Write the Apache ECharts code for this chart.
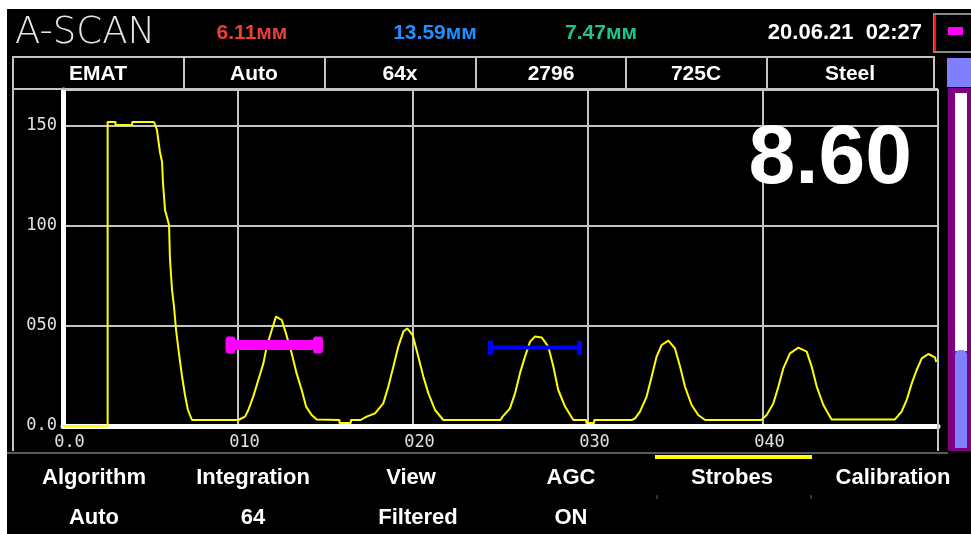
<!DOCTYPE html>
<html><head><meta charset="utf-8">
<script src="https://cdn.jsdelivr.net/npm/echarts@6/dist/echarts.min.js"></script>
<style>html,body{margin:0;padding:0;background:#fff;overflow:hidden;}#c{position:absolute;left:7px;top:9px;width:964px;height:525px;}</style>
</head><body><div id="c"></div><script>
// ---- data ----
const xTickLabels = ['0.0','010','020','030','040',''];
const yTickValues = [0, 50, 100, 150];
const yTickLabels = ['0.0','050','100','150'];
const ascan = [
 [0,0],[2.55,0],[2.55,152],[3.0,152],[3.0,150.5],[3.95,150.5],[3.95,152],[5.2,152],
 [5.37,148],[5.43,144],[5.54,137],[5.66,132],[5.71,122],[5.83,108],[6.06,100.5],[6.11,84],[6.23,68],[6.34,60],[6.46,48],[6.63,36],[6.8,25],[6.97,15.5],[7.14,8],[7.37,3],
 [10.02,3],[10.4,4.7],[10.59,8],[10.87,14.7],[11.16,23],[11.45,31.3],[11.64,39.7],[11.93,48],[12.17,54.7],[12.5,53],[12.74,46.3],[13.07,36.3],[13.35,26.3],[13.64,18],[13.89,9.7],[14.21,5.5],[14.5,3.3],
 [15.8,3],[15.8,1.5],[16.45,1.5],[16.45,3],
 [17.0,3],[17.35,4.7],[17.83,6.3],[18.3,11.3],[18.59,19.7],[18.88,29.7],[19.16,39.7],[19.45,47.2],[19.67,48.8],[19.98,45.5],[20.3,34.7],[20.59,24.7],[20.88,16.3],[21.26,8],[21.73,3],
 [25.0,3],[25.12,4.7],[25.54,8.8],[25.83,16.3],[26.11,26.3],[26.4,34.7],[26.69,42.2],[26.97,44.7],[27.35,44.3],[27.73,39.7],[28.02,29.7],[28.3,18],[28.69,9.7],[29.16,3],
 [29.9,3],[29.9,1.5],[30.35,1.5],[30.35,3],
 [32.5,3],[32.69,3.8],[32.97,7.2],[33.35,14.7],[33.64,24.7],[33.92,34.7],[34.21,40.5],[34.59,42.7],[34.97,38.8],[35.26,29.7],[35.54,19.7],[35.92,10.5],[36.3,5.5],[36.69,3],
 [39.9,3],[40.21,5.5],[40.59,11.3],[40.88,19.7],[41.16,28.8],[41.54,36.3],[42.02,39.2],[42.5,37.2],[42.78,29.7],[43.07,19.7],[43.45,10.5],[43.92,3.3],
 [47.54,3.3],[47.92,7.2],[48.21,13],[48.5,21.3],[48.78,28],[49.07,33.8],[49.45,36],[49.83,34.3],[49.9,32]
];
const strobeA = [9.57, 14.57, 40.5];   // start, end, level
const strobeB = [24.43, 29.51, 39.2];
const readings = ['6.11мм', '13.59мм', '7.47мм'];
const dateText = '20.06.21  02:27';
const headerCells = ['EMAT','Auto','64x','2796','725C','Steel'];
const menuTitles = ['Algorithm','Integration','View','AGC','Strobes','Calibration'];
const menuValues = ['Auto','64','Filtered','ON','',''];
const bigValue = '8.60';
const titleText = 'A-SCAN';

// ---- layout helpers (page coords -> chart coords) ----
const OX = 7, OY = 9;
function L(x1,y1,x2,y2,c,w){return {type:'line',silent:true,z:50,shape:{x1:x1-OX,y1:y1-OY,x2:x2-OX,y2:y2-OY},style:{stroke:c,lineWidth:w}};}
function R(x1,y1,x2,y2,fill,r,stroke,lw){return {type:'rect',silent:true,z:50,shape:{x:x1-OX,y:y1-OY,width:x2-x1,height:y2-y1,r:r||0},style:{fill:fill,stroke:stroke||null,lineWidth:lw||0}};}
function T(t,x,y,font,c,align){return {type:'text',silent:true,z:60,x:x-OX,y:y-OY,style:{text:t,font:font,fill:c,textAlign:align||'center',textVerticalAlign:'middle'}};}

const g = [];
const lc = '#c4c4c4';
// header table
g.push(L(13,57,934,57,lc,2), L(12,89,938,89,lc,2), L(934,56,934,89,lc,2));
[184,325,476,626,767].forEach(x=>g.push(L(x,57,x,89,lc,2)));
g.push(L(13,56,13,451,lc,2), L(938,89,938,451,lc,2), L(7,453,948,453,'#5a5a5a',2));
const cellCenters = [98,254,400,551,696,850];
headerCells.forEach((t,i)=>g.push(T(t,cellCenters[i],74,'bold 21px "Liberation Sans", Arial','#ffffff')));
// top row
g.push(T(titleText,15,33,'200 37px "DejaVu Sans", Lato, sans-serif','#e6e6e6','left'));
const readColors = ['#e8413a','#1e90ff','#1fc493'];
const readCenters = [252,435,601];
readings.forEach((t,i)=>g.push(T(t,readCenters[i],33,'bold 21px "Liberation Sans", Arial',readColors[i])));
g.push(T(dateText,922,33,'bold 22px "Liberation Sans", Arial','#ffffff','right'));
g.push(R(934,14,975,52,'#000',0,'#8a8a8a',2), L(935,15,935,51,'#ff1010',2), R(948,27,963,35,'#ff00ff'));
// right gauge
g.push(R(947,58,971,87,'#8080ff'), R(948,88,971,451,'#800080'), R(955,93,967,351,'#ffffff'), R(955,350,967,448,'#8080ff',[5,5,0,0]));
// big value
g.push(T(bigValue,912,160,'bold 84px "Liberation Sans", Arial','#ffffff','right'));
// bottom menu
const menuCenters = [94,253,411,571,732,893];
menuTitles.forEach((t,i)=>g.push(T(t,menuCenters[i],478,'bold 22px "Liberation Sans", Arial','#ffffff')));
menuValues.forEach((t,i)=>{ if(t) g.push(T(t,menuCenters[i]+(i===2?7:0),518,'bold 22px "Liberation Sans", Arial','#ffffff')); });
g.push(R(655,455,812,459,'#ffff00'), L(657,495,657,499,'#666',1), L(811,495,811,499,'#666',1));

const chart = echarts.init(document.getElementById('c'), null, {renderer:'canvas'});
chart.setOption({
  animation:false,
  backgroundColor:'#000000',
  grid:{left:56, top:81, right:33, bottom:108, containLabel:false},
  xAxis:{type:'value', min:0, max:50, interval:10,
    axisLine:{show:true, lineStyle:{color:'#ffffff', width:5}},
    axisTick:{show:false},
    splitLine:{show:true, lineStyle:{color:lc, width:2}},
    axisLabel:{color:'#e0e0e0', fontFamily:'"DejaVu Sans Mono", monospace', fontSize:17, margin:8, padding:[0,0,0,13],
      formatter:v=>xTickLabels[Math.round(v/10)] ?? ''}},
  yAxis:{type:'value', min:0, max:168, interval:50,
    axisLine:{show:true, lineStyle:{color:'#ffffff', width:5}},
    axisTick:{show:false},
    splitLine:{show:true, lineStyle:{color:lc, width:2}},
    axisLabel:{color:'#e0e0e0', fontFamily:'"DejaVu Sans Mono", monospace', fontSize:17, margin:6,
      formatter:v=>{const i=yTickValues.indexOf(v); return i>=0?yTickLabels[i]:'';}}},
  series:[
    {type:'line', data:ascan, showSymbol:false, symbol:'none', lineStyle:{color:'#ffff00', width:2}, z:5},
    {type:'line', data:[[strobeA[0],strobeA[2]],[strobeA[1],strobeA[2]]], symbol:'roundRect', symbolSize:[10,17],
      itemStyle:{color:'#ff00ff'}, lineStyle:{color:'#ff00ff', width:10}, z:6},
    {type:'line', data:[[strobeB[0],strobeB[2]],[strobeB[1],strobeB[2]]], symbol:'rect', symbolSize:[5,14],
      itemStyle:{color:'#0000ff'}, lineStyle:{color:'#0000ff', width:4}, z:6}
  ],
  graphic:{elements:g}
});
</script></body></html>
